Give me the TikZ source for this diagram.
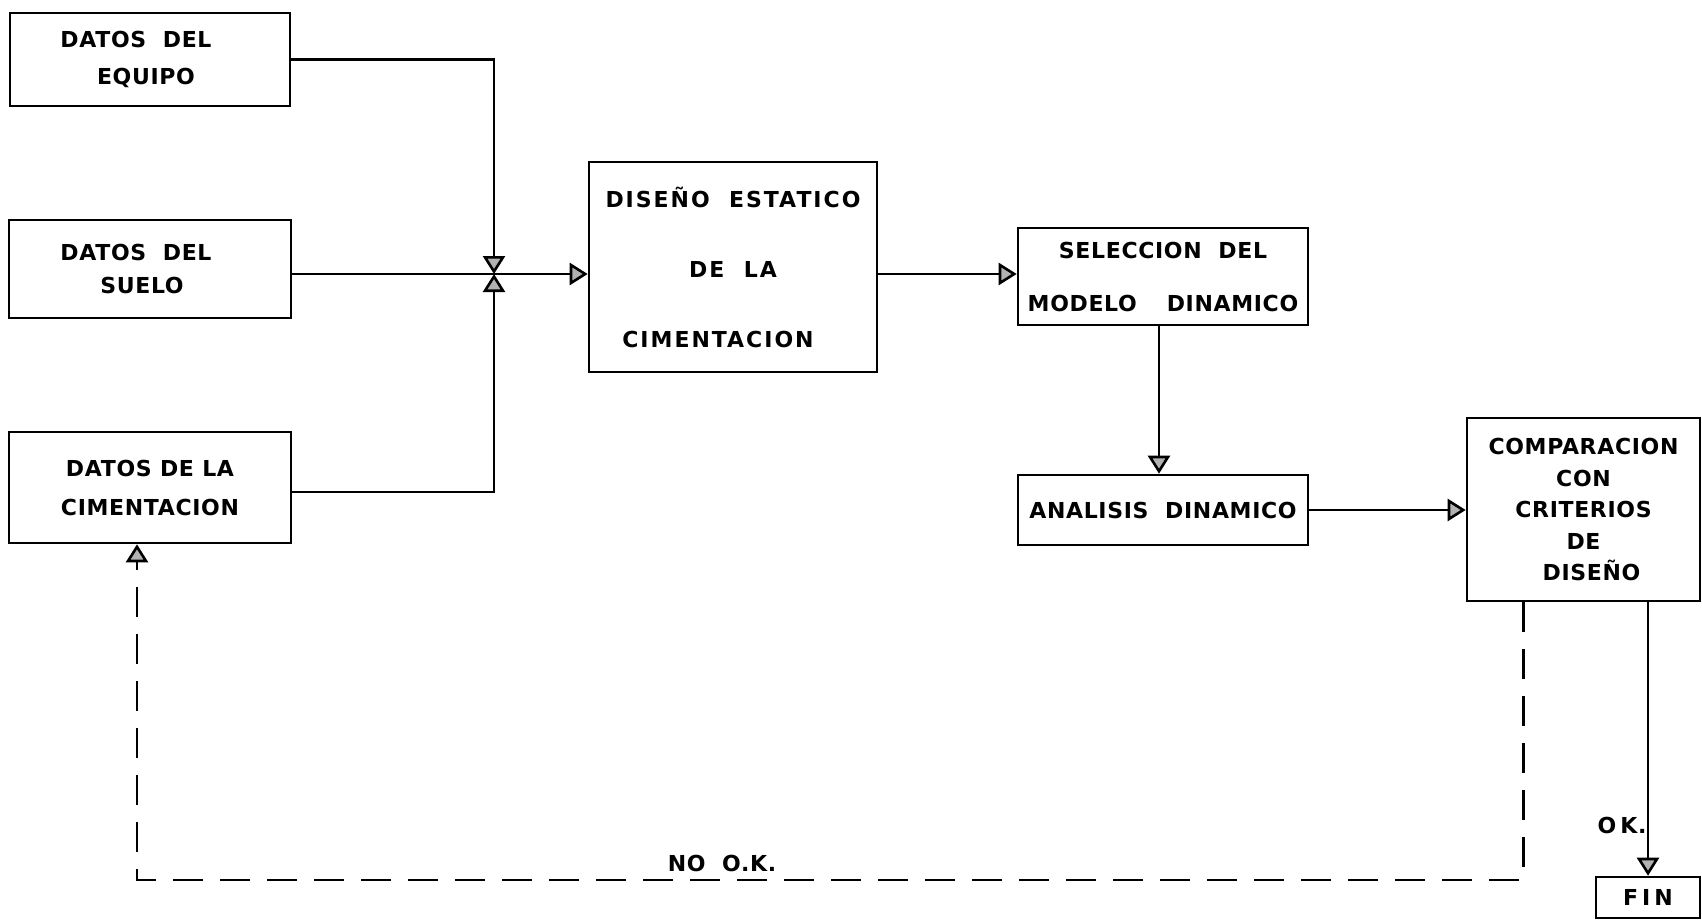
\documentclass[tikz,border=0pt]{standalone}
\usepackage{fontspec}
\usetikzlibrary{arrows.meta}
\newfontfamily\labfont{DejaVu Sans}[LetterSpace=3]
\newfontfamily\labfontw{DejaVu Sans}[LetterSpace=9]
\newcommand\myfnt[1]{\labfont\bfseries\fontsize{11pt}{#1}\selectfont}
\newcommand\myfntw[1]{\labfontw\bfseries\fontsize{11pt}{#1}\selectfont}
\begin{document}
\begin{tikzpicture}[x=0.5pt,y=-0.5pt,
  box/.style={draw, line width=1.3pt, inner sep=0pt, align=center},
  conn/.style={line width=1.2pt},
  dashconn/.style={line width=1.2pt, dash pattern=on 15pt off 8.5pt},
  arr/.style={-{Triangle[length=9pt,width=11pt,fill=gray!60,line width=1.3pt]}},
  lbl/.style={inner sep=0pt, font=\myfnt{13pt}}]
\useasboundingbox (0,0) rectangle (1702,921);

\node[box, minimum width=140pt, minimum height=46.5pt, font=\myfnt{18.5pt}] (b1) at (150,59.5) {DATOS\ \ DEL\hspace*{14pt}\\EQUIPO\hspace*{4pt}};
\node[box, minimum width=141pt, minimum height=49pt, font=\myfnt{16.5pt}] (b2) at (150,269) {DATOS\ \ DEL\hspace*{14pt}\\SUELO\hspace*{8pt}};
\node[box, minimum width=141pt, minimum height=55.5pt, font=\myfnt{19.5pt}] (b3) at (150,487.5) {DATOS DE LA\\CIMENTACION};
\node[box, minimum width=144pt, minimum height=105pt, font=\myfntw{35pt}] (dis) at (733,267) {DISE\~NO\ \ ESTATICO\\D\kern1pt E\ \ L\kern1pt A\hspace*{14pt}\\CIMENTACION\hspace*{15pt}};
\node[box, minimum width=145pt, minimum height=48.5pt, font=\myfnt{26.5pt}] (sel) at (1163,276.5) {SELECCION\ \ DEL\\MODELO\hspace{15pt}DINAMICO};
\node[box, minimum width=145pt, minimum height=35pt, font=\myfnt{13pt}] (ana) at (1163,510) {ANALISIS\ \ DINAMICO};
\node[box, minimum width=116.5pt, minimum height=91.5pt, font=\myfnt{15.75pt}] (comp) at (1583.5,509.5) {COMPARACION\\CON\\CRITERIOS\\DE\\\hspace*{8pt}DISE\~NO};
\node[box, minimum width=52pt, minimum height=20.5pt, font=\myfnt{13pt}] (fin) at (1648,897.5) {F\kern2pt I\kern2pt N};

\node[lbl] (ok) at (1622,825) {O\kern2pt K.};
\node[lbl] (nook) at (722,863) {NO\ \ O.K.};

\coordinate (J) at (494,274);
\coordinate (L) at (137,880);

\draw[conn, arr] (b1.east) -| (J);
\draw[conn, arr] (b3.east |- 0,492) -| (J);
\draw[conn, arr] (b2.east |- J) -- (dis.west |- J);
\draw[conn, arr] (dis.east |- J) -- (sel.west |- J);
\draw[conn, arr] ([xshift=-2pt]sel.south) -- ([xshift=-2pt]ana.north);
\draw[conn, arr] (ana.east) -- (comp.west |- ana.east);
\draw[conn, arr] (comp.south -| fin.north) -- (fin.north);
\draw[dashconn, arr] ([xshift=-30pt]comp.south) |- (L) -- (L |- b3.south);
\end{tikzpicture}
\end{document}
